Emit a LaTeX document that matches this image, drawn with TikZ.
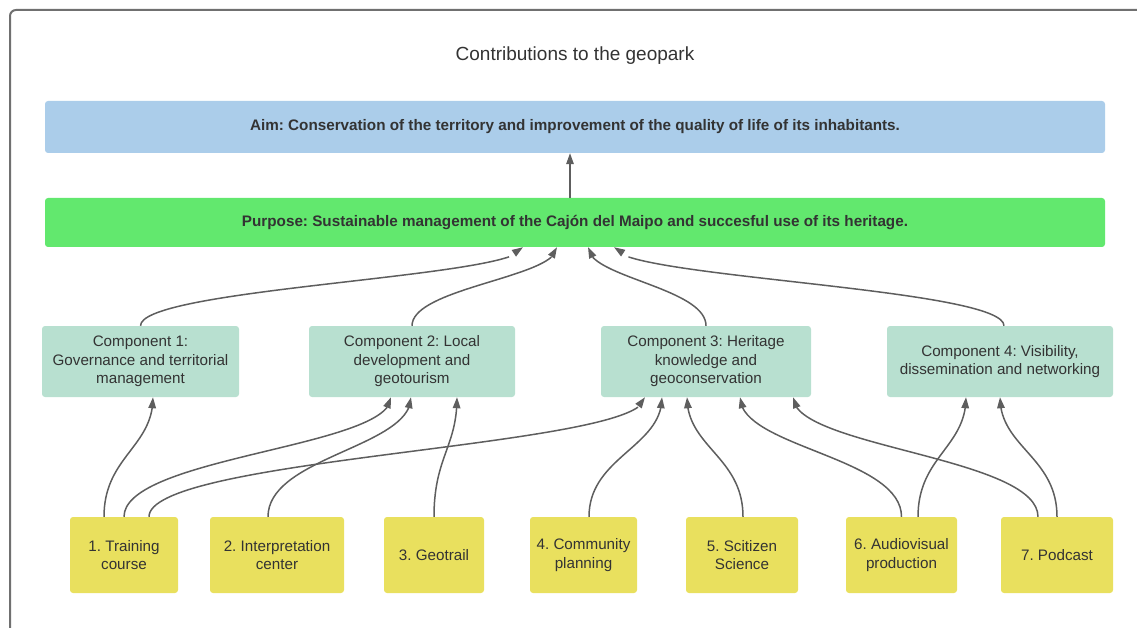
\documentclass[tikz,border=0pt]{standalone}
\usepackage{fontspec}
\setmainfont{Liberation Sans}
\usetikzlibrary{arrows.meta,bending}
\frenchspacing
\definecolor{aimblue}{HTML}{ABCDEA}
\definecolor{purpgreen}{HTML}{62E86E}
\definecolor{compgreen}{HTML}{B8E0D0}
\definecolor{actyellow}{HTML}{E9E05E}
\definecolor{txtgray}{HTML}{333333}
\definecolor{linegray}{HTML}{5E5E5E}
\definecolor{framegray}{HTML}{707070}

\begin{document}
\begin{tikzpicture}[x=1pt,y=-1pt,
  box/.style={rectangle,rounded corners=3pt,inner sep=0pt,text=txtgray,align=center},
  goal/.style={box,minimum width=1060pt,font=\fontsize{15.25}{18}\selectfont\bfseries},
  comp/.style={box,fill=compgreen,minimum height=71pt,font=\fontsize{15.2}{18.5}\selectfont},
  act/.style={box,fill=actyellow,minimum height=76pt,font=\fontsize{15.2}{18.5}\selectfont},
  link/.style={draw=linegray,line width=1.5pt,-{Triangle[length=11pt,width=7.5pt,flex]}}]
\useasboundingbox (0,0) rectangle (1137,628);
\clip (0,0) rectangle (1137,628);

% Frame
\draw[framegray,line width=2pt,rounded corners=6pt] (10,700) -- (10,10) -- (1200,10);

% Title
\node[text=txtgray,font=\fontsize{19}{23}\selectfont] (title) at (575,56) {Contributions to the geopark};

% Aim and purpose
\node[goal,fill=aimblue,minimum height=52pt] (aim) at (575,127) {Aim: Conservation of the territory and improvement of the quality of life of its inhabitants.};
\node[goal,fill=purpgreen,minimum height=49pt] (purpose) at (575,222.5) {Purpose: Sustainable management of the Cajón del Maipo and succesful use of its heritage.};

% Components
\node[comp,minimum width=197pt] (c1) at (140.5,361.5) {Component 1:\\Governance and territorial\\management};
\node[comp,minimum width=206pt] (c2) at (412,361.5) {Component 2: Local\\development and\\geotourism};
\node[comp,minimum width=210pt] (c3) at (706,361.5) {Component 3: Heritage\\knowledge and\\geoconservation};
\node[comp,minimum width=226pt] (c4) at (1000,361.5) {Component 4: Visibility,\\dissemination and networking};

% Activities
\node[act,minimum width=108pt] (a1) at (124,555) {1. Training\\course};
\node[act,minimum width=134pt] (a2) at (277,555) {2. Interpretation\\center};
\node[act,minimum width=100pt] (a3) at (434,555) {3. Geotrail};
\node[act,minimum width=107pt] (a4) at (583.5,555) {4. Community\\planning};
\node[act,minimum width=112pt] (a5) at (742,555) {5. Scitizen\\Science};
\node[act,minimum width=111pt] (a6) at (901.5,555) {6. Audiovisual\\production};
\node[act,minimum width=112pt] (a7) at (1057,555) {7. Podcast};

% Purpose -> aim
\draw[link] ([xshift=-5pt]purpose.north) -- ([xshift=-5pt]aim.south);

% Components -> purpose
\draw[link] (c1.north) .. controls +(0,-38) and +(0,30) .. ([xshift=-52pt]purpose.south);
\draw[link] (c2.north) .. controls +(0,-38) and +(0,30) .. ([xshift=-18pt]purpose.south);
\draw[link] (c3.north) .. controls +(0,-38) and +(0,30) .. ([xshift=13pt]purpose.south);
\draw[link] ([xshift=4pt]c4.north) .. controls +(0,-38) and +(0,30) .. ([xshift=39pt]purpose.south);

% Activities -> components
\draw[link] ([xshift=-20pt]a1.north) .. controls +(0,-60) and +(0,50) .. ([xshift=12.5pt]c1.south);
\draw[link] (a1.north) .. controls +(0,-60) and +(0,50) .. ([xshift=-21pt]c2.south);
\draw[link] ([xshift=25pt]a1.north) .. controls +(0,-60) and +(0,50) .. ([xshift=-61pt]c3.south);
\draw[link] ([xshift=-9pt]a2.north) .. controls +(0,-60) and +(0,50) .. ([xshift=-1pt]c2.south);
\draw[link] (a3.north) .. controls +(0,-60) and +(0,50) .. ([xshift=45pt]c2.south);
\draw[link] ([xshift=5.5pt]a4.north) .. controls +(0,-60) and +(0,50) .. ([xshift=-44pt]c3.south);
\draw[link] ([xshift=1pt]a5.north) .. controls +(0,-60) and +(0,50) .. ([xshift=-19pt]c3.south);
\draw[link] (a6.north) .. controls +(0,-60) and +(0,50) .. ([xshift=34pt]c3.south);
\draw[link] ([xshift=16.5pt]a6.north) .. controls +(0,-60) and +(0,50) .. ([xshift=-34pt]c4.south);
\draw[link] ([xshift=-19pt]a7.north) .. controls +(0,-60) and +(0,50) .. ([xshift=87pt]c3.south);
\draw[link] (a7.north) .. controls +(0,-60) and +(0,50) .. (c4.south);
\end{tikzpicture}
\end{document}
